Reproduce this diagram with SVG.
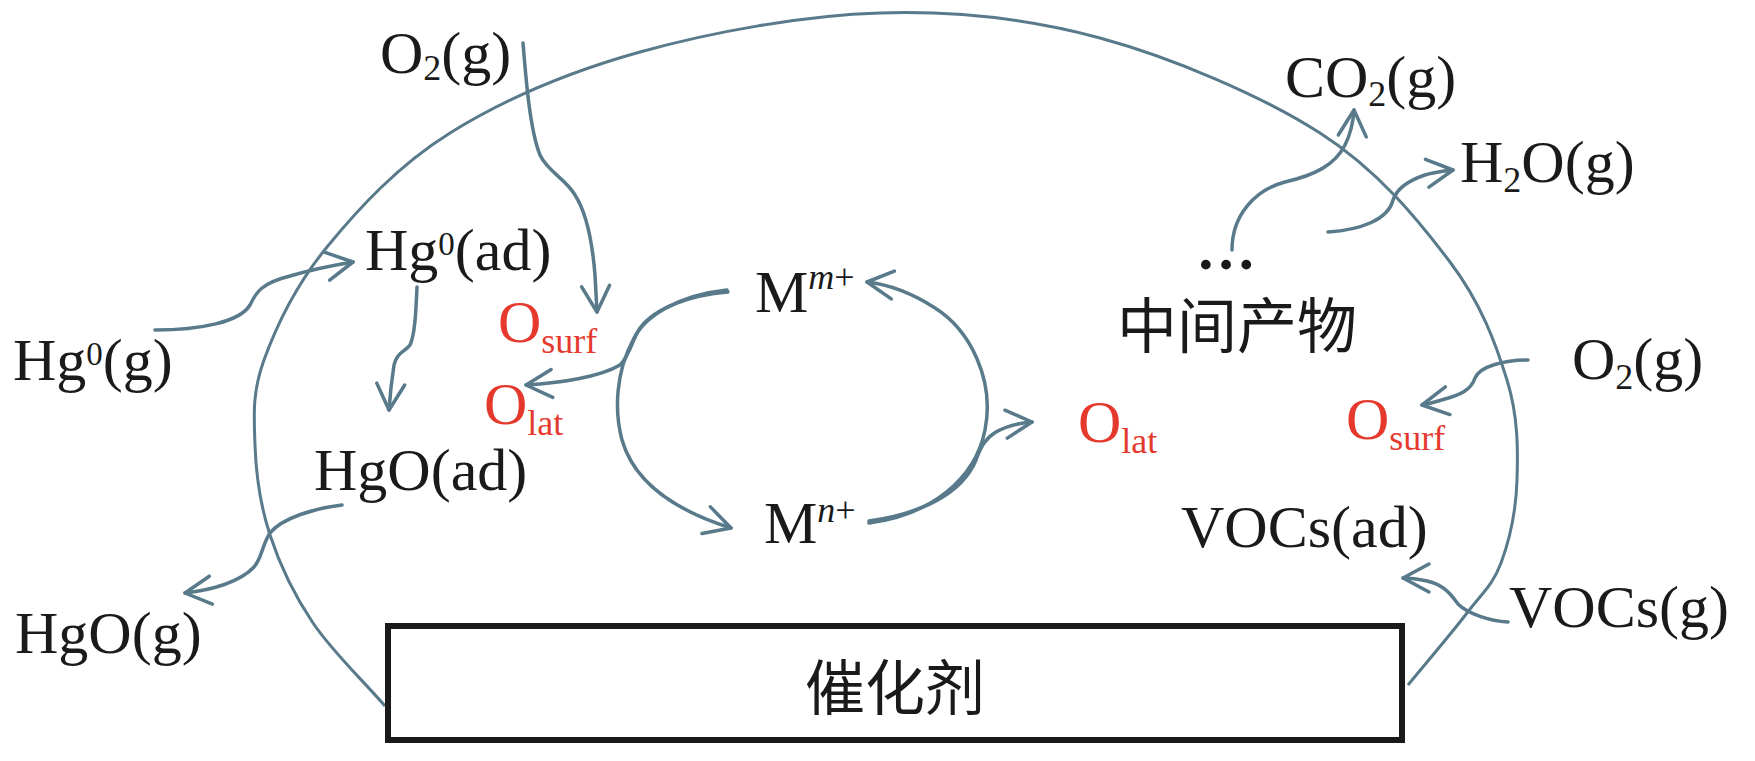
<svg xmlns="http://www.w3.org/2000/svg" width="1755" height="761" viewBox="0 0 1755 761">
<defs>
<style>
.t{font-family:"Liberation Serif","Times New Roman","Noto Sans CJK SC",serif;font-size:60px;fill:#1a1a1a}
.r{fill:#e5392d}
.s{font-size:36px}
.sp{font-size:33px}
.i{font-style:italic}
.cjk{font-family:"Noto Sans CJK SC","Liberation Serif",sans-serif;font-size:60px;fill:#1a1a1a}
.c{fill:none;stroke:#587a8a;stroke-width:3.5;stroke-linecap:round;stroke-linejoin:round}
.e{fill:none;stroke:#587a8a;stroke-width:3}
</style>
<marker id="ah" markerUnits="userSpaceOnUse" viewBox="-32 -20 36 40" markerWidth="36" markerHeight="40" refX="0" refY="0" orient="auto" overflow="visible">
<path d="M-26,-14 L0,0 L-26,14" fill="none" stroke="#587a8a" stroke-width="3.5" stroke-linecap="round" stroke-linejoin="round"/>
</marker>
</defs>
<rect width="1755" height="761" fill="#ffffff"/>

<g id="ellipse">
<path class="e" d="M385,706 C361,678.3 332.2,651.5 313,623 C293.8,594.5 279.7,564.7 270,535 C260.3,505.3 256,474.2 255,445 C254,415.8 252,393 264,360 C276,327 296,284.8 327,247 C358,209.2 397.8,165.5 450,133 C502.2,100.5 568.3,72 640,52 C711.7,32 803.3,15.3 880,13 C956.7,10.7 1026.7,18 1100,38 C1173.3,58 1261.7,95.7 1320,133 C1378.3,170.3 1418.8,220.8 1450,262 C1481.2,303.2 1495.8,343.7 1507,380 C1518.2,416.3 1518,449.5 1517,480 C1516,510.5 1509.3,540.8 1501,563 C1492.7,585.2 1482.5,592.7 1467,613 C1451.5,633.3 1427.7,661 1408,685"/>
</g>

<g id="catalyst">
<rect x="388" y="626" width="1014" height="114" fill="#ffffff" stroke="#1a1a1a" stroke-width="6"/>
<text class="cjk" x="895" y="710" text-anchor="middle">催化剂</text>
</g>

<g id="connectors">
<path class="c" marker-end="url(#ah)" d="M155,330 C200,330 240,322 250,305 C256,292 262,283 290,276 C310,270 335,265 353,262"/>
<path class="c" marker-end="url(#ah)" d="M523,43 C526,80 530,130 540,155 C548,172 565,178 575,195 C588,215 593,250 595,275 L597,312"/>
<path class="c" marker-end="url(#ah)" d="M417,287 C416,310 415,335 410,345 C405,352 397,352 394,365 C392,378 390,395 389,410"/>
<path class="c" marker-end="url(#ah)" d="M728,292 C690,295 655,308 640,328 C632,340 630,355 620,365 C600,377 560,383 526,385"/>
<path class="c" marker-end="url(#ah)" d="M727,290 C680,295 645,315 633,340 C616,372 614,410 622,440 C635,485 680,512 731,528"/>
<path class="c" marker-end="url(#ah)" d="M869,523 C930,515 975,480 985,430 C995,380 970,330 935,308 C915,295 893,285 867,282"/>
<path class="c" marker-end="url(#ah)" d="M869,521 C920,514 962,494 976,460 C981,446 986,438 996,432 C1008,425 1020,423 1032,422"/>
<path class="c" marker-end="url(#ah)" d="M342,505 C315,508 282,518 270,533 C262,545 262,558 254,567 C240,582 212,590 185,593"/>
<path class="c" marker-end="url(#ah)" d="M1232,250 C1232,215 1255,190 1285,182 C1315,175 1335,165 1345,145 C1350,135 1353,125 1354,110"/>
<path class="c" marker-end="url(#ah)" d="M1328,232 C1360,230 1388,220 1393,200 C1397,188 1410,180 1425,175 C1435,172 1445,171 1453,170"/>
<path class="c" marker-end="url(#ah)" d="M1528,360 C1505,360 1480,366 1475,378 C1471,390 1460,395 1445,399 C1435,402 1428,404 1422,405"/>
<path class="c" marker-end="url(#ah)" d="M1508,622 C1490,621 1468,614 1458,604 C1452,596 1445,585 1427,581 C1418,579 1410,578 1403,578"/>
</g>

<g id="o2-left"><text class="t" x="380" y="73">O<tspan class="s" dy="7">2</tspan><tspan dy="-7">(g)</tspan></text></g>
<g id="hg0-ad"><text class="t" x="365" y="270">Hg<tspan class="sp" dy="-15">0</tspan><tspan dy="15">(ad)</tspan></text></g>
<g id="hg0-g"><text class="t" x="13" y="380">Hg<tspan class="sp" dy="-15">0</tspan><tspan dy="15">(g)</tspan></text></g>
<g id="osurf-left"><text class="t r" x="498" y="342">O<tspan class="s" dy="11">surf</tspan></text></g>
<g id="olat-left"><text class="t r" x="484" y="424">O<tspan class="s" dy="11">lat</tspan></text></g>
<g id="hgo-ad"><text class="t" x="314" y="490">HgO(ad)</text></g>
<g id="hgo-g"><text class="t" x="15" y="653">HgO(g)</text></g>
<g id="m-m"><text class="t" x="755" y="312">M<tspan class="s i" dy="-23">m</tspan><tspan class="s">+</tspan></text></g>
<g id="m-n"><text class="t" x="764" y="543">M<tspan class="s i" dy="-21">n</tspan><tspan class="s">+</tspan></text></g>
<g id="olat-mid"><text class="t r" x="1078" y="442">O<tspan class="s" dy="11">lat</tspan></text></g>
<g id="osurf-right"><text class="t r" x="1346" y="439">O<tspan class="s" dy="11">surf</tspan></text></g>
<g id="o2-right"><text class="t" x="1572" y="379">O<tspan class="s" dy="10">2</tspan><tspan dy="-10">(g)</tspan></text></g>
<g id="co2"><text class="t" x="1285" y="97">CO<tspan class="s" dy="9">2</tspan><tspan dy="-9">(g)</tspan></text></g>
<g id="h2o"><text class="t" x="1460" y="182">H<tspan class="s" dy="10">2</tspan><tspan dy="-10">O(g)</tspan></text></g>
<g id="dots"><text class="t" x="1196" y="269" font-weight="bold" font-size="64">…</text></g>
<g id="intermediate"><text class="cjk" x="1117" y="348">中间产物</text></g>
<g id="vocs-ad"><text class="t" x="1181" y="547">VOCs(ad)</text></g>
<g id="vocs-g"><text class="t" x="1509" y="627">VOCs(g)</text></g>
</svg>
